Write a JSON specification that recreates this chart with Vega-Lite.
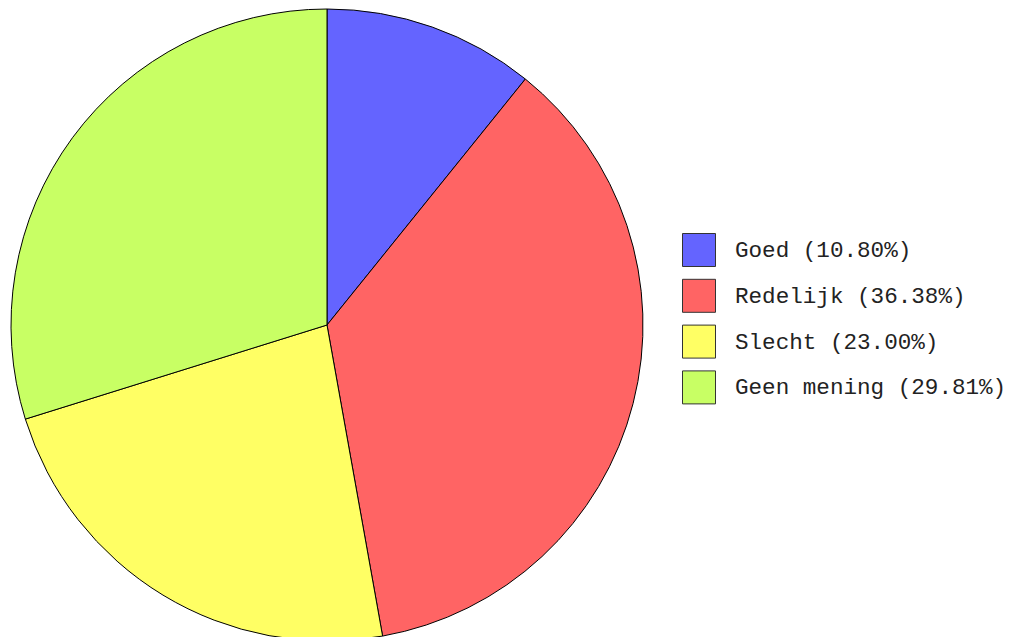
{
  "$schema": "https://vega.github.io/schema/vega-lite/v6.json",
  "width": 632,
  "height": 624,
  "autosize": {"type": "none"},
  "padding": {"left": 11, "top": 13, "right": 370, "bottom": 0},
  "background": "white",
  "view": {"stroke": null},
  "data": {
    "values": [
      {"label": "Goed (10.80%)", "pct": 10.80, "rank": 1},
      {"label": "Redelijk (36.38%)", "pct": 36.38, "rank": 2},
      {"label": "Slecht (23.00%)", "pct": 23.00, "rank": 3},
      {"label": "Geen mening (29.81%)", "pct": 29.81, "rank": 4}
    ]
  },
  "mark": {"type": "arc", "outerRadius": 316, "stroke": "#000000", "strokeWidth": 1},
  "encoding": {
    "theta": {"field": "pct", "type": "quantitative", "stack": true},
    "order": {"field": "rank", "type": "quantitative"},
    "color": {
      "field": "label",
      "type": "nominal",
      "sort": ["Goed (10.80%)", "Redelijk (36.38%)", "Slecht (23.00%)", "Geen mening (29.81%)"],
      "scale": {
        "domain": ["Goed (10.80%)", "Redelijk (36.38%)", "Slecht (23.00%)", "Geen mening (29.81%)"],
        "range": ["#6464ff", "#ff6464", "#ffff64", "#c8ff64"]
      },
      "legend": {
        "title": null,
        "orient": "none",
        "legendX": 671,
        "legendY": 220,
        "padding": 0,
        "symbolType": "square",
        "symbolSize": 1089,
        "symbolStrokeColor": "#333333",
        "symbolStrokeWidth": 1,
        "symbolOpacity": 1,
        "rowPadding": 7.8,
        "labelOffset": 19,
        "labelFont": "Liberation Mono",
        "labelFontSize": 22.6,
        "labelColor": "#222222",
        "labelLimit": 400
      }
    }
  }
}
